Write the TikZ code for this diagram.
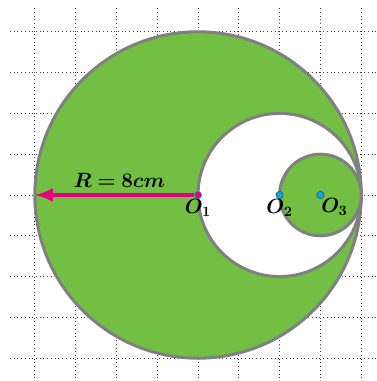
\documentclass[tikz,border=0pt]{standalone}
\usepackage{amsmath}
\usepackage{bm}
\usetikzlibrary{arrows.meta, positioning}
\definecolor{leafgreen}{RGB}{114,191,68}
\definecolor{rimgray}{RGB}{128,128,128}
\definecolor{radpink}{RGB}{230,0,126}
\definecolor{dotblue}{RGB}{0,170,230}

\begin{document}
\begin{tikzpicture}[
      disk/.style={draw=rimgray, line width=2.1pt},
      ctr/.style={circle, draw=black!70, fill=dotblue, inner sep=0pt, minimum size=0.18cm, line width=0.4pt},
      lbl/.style={font=\Large, text=black},
      arrow/.style={-{Latex[length=4.4mm, width=3.4mm]}, radpink, line width=2.4pt},
      x=1cm, y=1cm
    ]
    \useasboundingbox (-4.853,-4.559) rectangle (4.387,4.779);
    \draw[dotted, black!75, line width=0.6pt] (-4.61,-4.49) grid (4.39,4.58);

    \draw[disk, fill=leafgreen] (0,0) circle (4);
    \draw[disk, fill=white] (2,0) circle (2);
    \draw[disk, fill=leafgreen] (3,0) circle (1);

    \node[ctr, fill=radpink, draw=dotblue] (o1) at (0,0) {};
    \node[ctr] (o2) at (2,0) {};
    \node[ctr] (o3) at (3,0) {};
    \coordinate (rim) at (-4,0);

    \draw[arrow] (o1) -- node[above=1pt, lbl, xshift=0.12cm] {$\bm{R=8cm}$} (rim);

    \node[lbl, below=-3pt of o1] {$\bm{O_1}$};
    \node[lbl, below=-3pt of o2] {$\bm{O_2}$};
    \node[lbl, below right=-3pt and -0.17cm of o3] {$\bm{O_3}$};
  \end{tikzpicture}
\end{document}
